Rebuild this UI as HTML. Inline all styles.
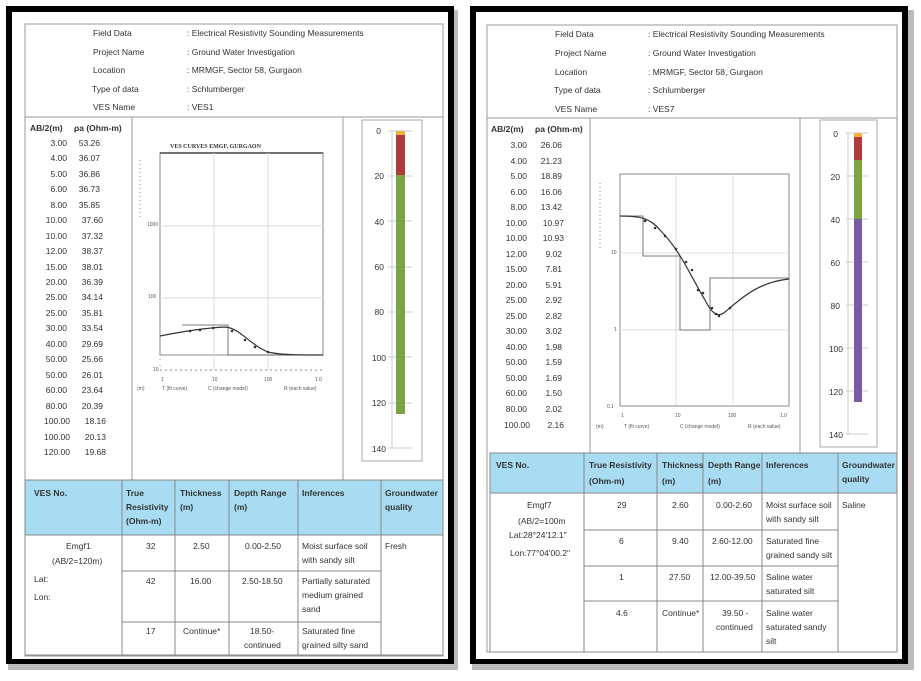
<!DOCTYPE html>
<html><head><meta charset="utf-8"><style>
body{margin:0;background:#fff;}
svg{display:block;font-family:"Liberation Sans",sans-serif;}
text{fill:#333;font-size:8.5px;}
.s{font-size:5px;fill:#555}
</style></head><body>
<svg width="921" height="681" viewBox="0 0 921 681">
<defs><filter id="b"><feGaussianBlur stdDeviation="0.35"/></filter></defs>
<!-- shadows -->
<rect x="8" y="10" width="450" height="660" fill="#bbb"/>
<rect x="472" y="10" width="442" height="660" fill="#bbb"/>
<!-- frames -->
<rect x="6" y="6" width="448" height="658" fill="#000"/>
<rect x="12" y="12" width="436" height="647" fill="#fff"/>
<rect x="470" y="6" width="438" height="658" fill="#000"/>
<rect x="476" y="12" width="426" height="647" fill="#fff"/>
<g filter="url(#b)">
<!-- LEFT PANEL -->
<rect x="25" y="24" width="418" height="632" fill="none" stroke="#999"/>
<line x1="25" y1="117" x2="443" y2="117" stroke="#999"/>
<line x1="132" y1="117" x2="132" y2="480" stroke="#999"/>
<line x1="343" y1="117" x2="343" y2="480" stroke="#999"/>
<text x="93" y="36">Field Data</text><text x="187" y="36">: Electrical Resistivity Sounding  Measurements</text>
<text x="93" y="55">Project Name</text><text x="187" y="55">: Ground Water Investigation</text>
<text x="93" y="73">Location</text><text x="187" y="73">: MRMGF, Sector 58, Gurgaon</text>
<text x="92" y="92">Type of data</text><text x="187" y="92">: Schlumberger</text>
<text x="93" y="110">VES Name</text><text x="187" y="110">: VES1</text>
<text x="30" y="131" font-weight="bold">AB/2(m)</text><text x="74" y="131" font-weight="bold">ρa (Ohm-m)</text>
<g text-anchor="end">
<text x="67" y="146">3.00</text><text x="100" y="146">53.26</text>
<text x="67" y="161">4.00</text><text x="100" y="161">36.07</text>
<text x="67" y="177">5.00</text><text x="100" y="177">36.86</text>
<text x="67" y="192">6.00</text><text x="100" y="192">36.73</text>
<text x="67" y="208">8.00</text><text x="100" y="208">35.85</text>
<text x="67" y="223">10.00</text><text x="103" y="223">37.60</text>
<text x="67" y="239">10.00</text><text x="103" y="239">37.32</text>
<text x="67" y="254">12.00</text><text x="103" y="254">38.37</text>
<text x="67" y="270">15.00</text><text x="103" y="270">38.01</text>
<text x="67" y="285">20.00</text><text x="103" y="285">36.39</text>
<text x="67" y="300">25.00</text><text x="103" y="300">34.14</text>
<text x="67" y="316">25.00</text><text x="103" y="316">35.81</text>
<text x="67" y="331">30.00</text><text x="103" y="331">33.54</text>
<text x="67" y="347">40.00</text><text x="103" y="347">29.69</text>
<text x="67" y="362">50.00</text><text x="103" y="362">25.66</text>
<text x="67" y="378">50.00</text><text x="103" y="378">26.01</text>
<text x="67" y="393">60.00</text><text x="103" y="393">23.64</text>
<text x="67" y="409">80.00</text><text x="103" y="409">20.39</text>
<text x="70" y="424">100.00</text><text x="106" y="424">18.16</text>
<text x="70" y="440">100.00</text><text x="106" y="440">20.13</text>
<text x="70" y="455">120.00</text><text x="106" y="455">19.68</text>
</g>
<!-- left chart -->
<text x="170" y="148" style="font-size:6px;font-family:'Liberation Serif',serif;font-weight:bold">VES CURVES EMGF, GURGAON</text>
<rect x="160" y="153" width="163" height="202" fill="none" stroke="#888"/>
<line x1="160" y1="153" x2="323" y2="153" stroke="#444" stroke-width="1.5"/>
<line x1="214" y1="153" x2="214" y2="370" stroke="#ddd"/><line x1="268" y1="153" x2="268" y2="370" stroke="#ddd"/>
<line x1="160" y1="226" x2="323" y2="226" stroke="#ddd"/><line x1="160" y1="298" x2="323" y2="298" stroke="#ddd"/>
<line x1="140" y1="160" x2="140" y2="220" stroke="#888" stroke-dasharray="1,3"/>
<line x1="160" y1="155" x2="160" y2="370" stroke="#888" stroke-dasharray="1,5"/>
<text class="s" x="147" y="226">1000</text><text class="s" x="148" y="298">100</text><text class="s" x="153" y="371">10</text>
<line x1="160" y1="370" x2="323" y2="370" stroke="#888" stroke-dasharray="2,3"/>
<text class="s" x="161" y="381">1</text><text class="s" x="212" y="381">10</text><text class="s" x="264" y="381">100</text><text class="s" x="315" y="381">1.0</text>
<text class="s" x="137" y="390">(m)</text><text class="s" x="162" y="390">T (fit curve)</text><text class="s" x="208" y="390">C (change model)</text><text class="s" x="284" y="390">R (each value)</text>
<polyline points="182,325 228,325 228,355 323,355" fill="none" stroke="#555" stroke-width="0.8"/>
<path d="M160,336 C180,332 205,328 225,327 C240,328 250,345 268,352 C280,355 300,355 323,355" fill="none" stroke="#333" stroke-width="1.2"/>
<g fill="#333"><circle cx="190" cy="331" r="1.3"/><circle cx="200" cy="330" r="1.3"/><circle cx="213" cy="328" r="1.3"/><circle cx="232" cy="331" r="1.3"/><circle cx="245" cy="340" r="1.3"/><circle cx="255" cy="347" r="1.3"/><circle cx="268" cy="352" r="1.3"/></g>
<!-- left depth -->
<rect x="362" y="120" width="60" height="341" fill="none" stroke="#aaa"/>
<g text-anchor="end"><text x="381" y="134">0</text><text x="384" y="179">20</text><text x="384" y="225">40</text><text x="384" y="270">60</text><text x="384" y="315">80</text><text x="386" y="361">100</text><text x="386" y="406">120</text><text x="386" y="452">140</text></g>
<g stroke="#ccc"><line x1="388" y1="131" x2="412" y2="131"/><line x1="388" y1="176" x2="412" y2="176"/><line x1="388" y1="221" x2="412" y2="221"/><line x1="388" y1="267" x2="412" y2="267"/><line x1="388" y1="312" x2="412" y2="312"/><line x1="388" y1="357" x2="412" y2="357"/><line x1="388" y1="403" x2="412" y2="403"/><line x1="388" y1="448" x2="412" y2="448"/><line x1="392" y1="131" x2="392" y2="448"/></g>
<rect x="396" y="131" width="9" height="4" fill="#f0b040"/>
<rect x="396" y="135" width="9" height="40" fill="#b03a3a"/>
<rect x="396" y="175" width="9" height="239" fill="#7ba443"/>
<!-- left table -->
<rect x="25" y="480" width="418" height="55" fill="#a8dcf2"/>
<g stroke="#888" fill="none">
<rect x="25" y="480" width="418" height="175"/>
<line x1="25" y1="535" x2="443" y2="535"/>
<line x1="122" y1="480" x2="122" y2="655"/><line x1="175" y1="480" x2="175" y2="655"/><line x1="229" y1="480" x2="229" y2="655"/><line x1="298" y1="480" x2="298" y2="655"/><line x1="381" y1="480" x2="381" y2="655"/>
<line x1="122" y1="571" x2="381" y2="571"/><line x1="122" y1="622" x2="381" y2="622"/>
</g>
<g style="font-size:7.5px;font-weight:bold">
<text x="34" y="496">VES No.</text><text x="126" y="496">True</text><text x="126" y="510">Resistivity</text><text x="126" y="524">(Ohm-m)</text>
<text x="180" y="496">Thickness</text><text x="180" y="510">(m)</text><text x="234" y="496">Depth Range</text><text x="234" y="510">(m)</text>
<text x="302" y="496">Inferences</text><text x="385" y="496">Groundwater</text><text x="385" y="510">quality</text></g>
<g style="font-size:7.5px">
<text x="66" y="549">Emgf1</text><text x="52" y="564">(AB/2=120m)</text><text x="34" y="582">Lat:</text><text x="34" y="600">Lon:</text>
<text x="146" y="549">32</text><text x="193" y="549">2.50</text><text x="245" y="549">0.00-2.50</text><text x="302" y="549">Moist surface soil</text><text x="302" y="563">with sandy silt</text><text x="385" y="549">Fresh</text>
<text x="146" y="584">42</text><text x="190" y="584">16.00</text><text x="242" y="584">2.50-18.50</text><text x="302" y="584">Partially saturated</text><text x="302" y="598">medium grained</text><text x="302" y="612">sand</text>
<text x="146" y="634">17</text><text x="183" y="634">Continue*</text><text x="250" y="634">18.50-</text><text x="244" y="648">continued</text><text x="302" y="634">Saturated fine</text><text x="302" y="648">grained silty sand</text>
</g>

<!-- RIGHT PANEL -->
<rect x="487" y="25" width="410" height="627" fill="none" stroke="#999"/>
<line x1="487" y1="118" x2="897" y2="118" stroke="#999"/>
<line x1="590" y1="118" x2="590" y2="453" stroke="#999"/>
<line x1="800" y1="118" x2="800" y2="453" stroke="#999"/>
<text x="555" y="37">Field Data</text><text x="648" y="37">: Electrical Resistivity Sounding  Measurements</text>
<text x="555" y="56">Project Name</text><text x="648" y="56">: Ground Water Investigation</text>
<text x="555" y="75">Location</text><text x="648" y="75">: MRMGF, Sector 58, Gurgaon</text>
<text x="554" y="93">Type of data</text><text x="648" y="93">: Schlumberger</text>
<text x="555" y="112">VES Name</text><text x="648" y="112">: VES7</text>
<text x="491" y="132" font-weight="bold">AB/2(m)</text><text x="535" y="132" font-weight="bold">ρa (Ohm-m)</text>
<g text-anchor="end">
<text x="527" y="148">3.00</text><text x="562" y="148">26.06</text>
<text x="527" y="164">4.00</text><text x="562" y="164">21.23</text>
<text x="527" y="179">5.00</text><text x="562" y="179">18.89</text>
<text x="527" y="195">6.00</text><text x="562" y="195">16.06</text>
<text x="527" y="210">8.00</text><text x="562" y="210">13.42</text>
<text x="527" y="226">10.00</text><text x="564" y="226">10.97</text>
<text x="527" y="241">10.00</text><text x="564" y="241">10.93</text>
<text x="527" y="257">12.00</text><text x="562" y="257">9.02</text>
<text x="527" y="272">15.00</text><text x="562" y="272">7.81</text>
<text x="527" y="288">20.00</text><text x="562" y="288">5.91</text>
<text x="527" y="303">25.00</text><text x="562" y="303">2.92</text>
<text x="527" y="319">25.00</text><text x="562" y="319">2.82</text>
<text x="527" y="334">30.00</text><text x="562" y="334">3.02</text>
<text x="527" y="350">40.00</text><text x="562" y="350">1.98</text>
<text x="527" y="365">50.00</text><text x="562" y="365">1.59</text>
<text x="527" y="381">50.00</text><text x="562" y="381">1.69</text>
<text x="527" y="396">60.00</text><text x="562" y="396">1.50</text>
<text x="527" y="412">80.00</text><text x="562" y="412">2.02</text>
<text x="530" y="428">100.00</text><text x="564" y="428">2.16</text>
</g>
<!-- right chart -->
<rect x="620" y="174" width="169" height="232" fill="none" stroke="#888"/>
<line x1="676" y1="174" x2="676" y2="406" stroke="#ddd"/><line x1="733" y1="174" x2="733" y2="406" stroke="#ddd"/>
<line x1="620" y1="253" x2="789" y2="253" stroke="#ddd"/><line x1="620" y1="330" x2="789" y2="330" stroke="#ddd"/>
<line x1="600" y1="183" x2="600" y2="248" stroke="#888" stroke-dasharray="1,3"/>
<line x1="620" y1="176" x2="620" y2="406" stroke="#888" stroke-dasharray="1,5"/>
<text class="s" x="611" y="254">10</text><text class="s" x="614" y="331">1</text><text class="s" x="607" y="408">0.1</text>
<line x1="620" y1="406" x2="789" y2="406" stroke="#888" stroke-dasharray="2,3"/>
<text class="s" x="621" y="417">1</text><text class="s" x="675" y="417">10</text><text class="s" x="728" y="417">100</text><text class="s" x="780" y="417">1.0</text>
<text class="s" x="596" y="428">(m)</text><text class="s" x="624" y="428">T (fit curve)</text><text class="s" x="680" y="428">C (change model)</text><text class="s" x="748" y="428">R (each value)</text>
<polyline points="620,216 643,216 643,256 680,256 680,330 710,330 710,278 789,278" fill="none" stroke="#555" stroke-width="0.8"/>
<path d="M620,216 C640,216 650,218 660,230 C680,250 690,275 705,300 C712,314 718,318 725,312 C745,295 760,282 789,279" fill="none" stroke="#333" stroke-width="1.2"/>
<g fill="#333"><circle cx="645" cy="221" r="1.3"/><circle cx="655" cy="228" r="1.3"/><circle cx="665" cy="236" r="1.3"/><circle cx="676" cy="249" r="1.3"/><circle cx="686" cy="262" r="1.3"/><circle cx="692" cy="270" r="1.3"/><circle cx="698" cy="290" r="1.3"/><circle cx="703" cy="293" r="1.3"/><circle cx="712" cy="308" r="1.3"/><circle cx="716" cy="314" r="1.3"/><circle cx="719" cy="316" r="1.3"/><circle cx="730" cy="308" r="1.3"/></g>
<!-- right depth -->
<rect x="820" y="120" width="57" height="327" fill="none" stroke="#aaa"/>
<g text-anchor="end"><text x="838" y="137">0</text><text x="840" y="180">20</text><text x="840" y="223">40</text><text x="840" y="266">60</text><text x="840" y="309">80</text><text x="843" y="352">100</text><text x="843" y="395">120</text><text x="843" y="438">140</text></g>
<g stroke="#ccc"><line x1="846" y1="133" x2="868" y2="133"/><line x1="846" y1="176" x2="868" y2="176"/><line x1="846" y1="219" x2="868" y2="219"/><line x1="846" y1="262" x2="868" y2="262"/><line x1="846" y1="305" x2="868" y2="305"/><line x1="846" y1="348" x2="868" y2="348"/><line x1="846" y1="391" x2="868" y2="391"/><line x1="846" y1="434" x2="868" y2="434"/><line x1="848" y1="133" x2="848" y2="434"/></g>
<rect x="854" y="133" width="8" height="4" fill="#f0b040"/>
<rect x="854" y="137" width="8" height="23" fill="#b03a3a"/>
<rect x="854" y="160" width="8" height="59" fill="#7ba443"/>
<rect x="854" y="219" width="8" height="183" fill="#7a5aa2"/>
<!-- right table -->
<rect x="490" y="453" width="407" height="40" fill="#a8dcf2"/>
<g stroke="#888" fill="none">
<rect x="490" y="453" width="407" height="199"/>
<line x1="490" y1="493" x2="897" y2="493"/>
<line x1="584" y1="453" x2="584" y2="652"/><line x1="657" y1="453" x2="657" y2="652"/><line x1="703" y1="453" x2="703" y2="652"/><line x1="762" y1="453" x2="762" y2="652"/><line x1="838" y1="453" x2="838" y2="652"/>
<line x1="584" y1="530" x2="838" y2="530"/><line x1="584" y1="566" x2="838" y2="566"/><line x1="584" y1="601" x2="838" y2="601"/>
</g>
<g style="font-size:7.5px;font-weight:bold">
<text x="496" y="468">VES No.</text><text x="589" y="468">True Resistivity</text><text x="589" y="484">(Ohm-m)</text>
<text x="662" y="468">Thickness</text><text x="662" y="484">(m)</text><text x="708" y="468">Depth Range</text><text x="708" y="484">(m)</text>
<text x="766" y="468">Inferences</text><text x="842" y="468">Groundwater</text><text x="842" y="482">quality</text></g>
<g style="font-size:7.5px">
<text x="527" y="508">Emgf7</text><text x="518" y="524">(AB/2=100m</text><text x="509" y="538">Lat:28°24'12.1"</text><text x="510" y="556">Lon:77°04'00.2"</text>
<text x="617" y="508">29</text><text x="672" y="508">2.60</text><text x="716" y="508">0.00-2.60</text><text x="766" y="508">Moist surface soil</text><text x="766" y="522">with sandy silt</text><text x="842" y="508">Saline</text>
<text x="619" y="544">6</text><text x="672" y="544">9.40</text><text x="712" y="544">2.60-12.00</text><text x="766" y="544">Saturated fine</text><text x="766" y="558">grained sandy silt</text>
<text x="619" y="580">1</text><text x="669" y="580">27.50</text><text x="710" y="580">12.00-39.50</text><text x="766" y="580">Saline water</text><text x="766" y="594">saturated silt</text>
<text x="616" y="616">4.6</text><text x="662" y="616">Continue*</text><text x="722" y="616">39.50 -</text><text x="716" y="630">continued</text><text x="766" y="616">Saline water</text><text x="766" y="630">saturated sandy</text><text x="766" y="644">silt</text>
</g>
</g>
</svg>
</body></html>
